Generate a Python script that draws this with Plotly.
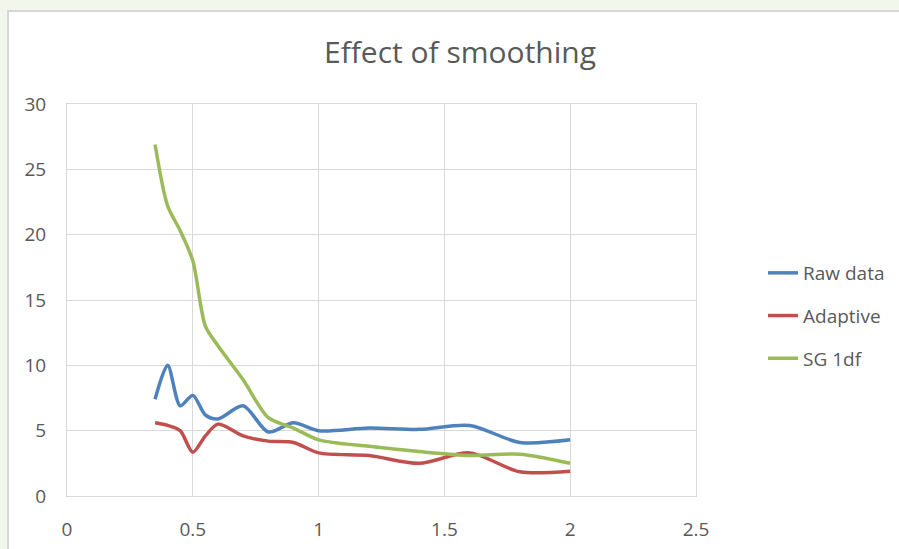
import plotly.graph_objects as go

x_vals = [0.35, 0.4, 0.45, 0.5, 0.55, 0.6, 0.7, 0.8, 0.9, 1.0, 1.2, 1.4, 1.6, 1.8, 2.0]
raw_data = [7.4, 10.0, 6.9, 7.7, 6.2, 5.9, 6.9, 4.9, 5.6, 5.0, 5.2, 5.1, 5.4, 4.1, 4.3]
adaptive = [5.6, 5.4, 5.0, 3.35, 4.6, 5.5, 4.6, 4.2, 4.1, 3.3, 3.1, 2.5, 3.3, 1.85, 1.9]
sg_1df = [26.9, 22.2, 20.3, 18.0, 13.0, 11.5, 8.9, 6.0, 5.2, 4.3, 3.8, 3.4, 3.1, 3.2, 2.5]

series_names = ["Raw data", "Adaptive", "SG 1df"]
series_colors = ["#4F81BD", "#C0504D", "#9BBB59"]
series_values = [raw_data, adaptive, sg_1df]

x_ticks = [0, 0.5, 1, 1.5, 2, 2.5]
x_tick_labels = ["0", "0.5", "1", "1.5", "2", "2.5"]
y_ticks = [0, 5, 10, 15, 20, 25, 30]

W, H = 899, 549
L, R, T, B = 67, 203, 104, 53
pw, ph = W - L - R, H - T - B

fig = go.Figure()
for i, (name, vals, col) in enumerate(zip(series_names, series_values, series_colors)):
    fig.add_trace(go.Scatter(
        x=x_vals, y=vals, name=name, mode="lines",
        line=dict(color=col, width=3.5, shape="spline", smoothing=0.8),
        legendgroup=f"g{i}",
    ))

def px2x(p):
    return (p - L) / pw

def px2y(p):
    return (H - B - p) / ph

FONT = "Open Sans"
grid = "#D9D9D9"

fig.update_layout(
    width=W, height=H,
    margin=dict(l=L, r=R, t=T, b=B, pad=0, autoexpand=False),
    paper_bgcolor="#F3F6EA",
    plot_bgcolor="#FFFFFF",
    font=dict(family=FONT, color="#595959", size=19),
    title=dict(text="Effect of smoothing", x=px2x(460), xref="paper", xanchor="center",
               y=1 - 52 / H, yanchor="middle",
               font=dict(family=FONT, size=30, color="#595959")),
    showlegend=True,
    legend=dict(x=px2x(763), y=px2y(254), xanchor="left", yanchor="top",
                xref="paper", yref="paper",
                font=dict(family=FONT, size=19, color="#595959"),
                bgcolor="rgba(0,0,0,0)", tracegroupgap=15),
    shapes=[dict(type="rect", xref="paper", yref="paper", layer="below",
                 x0=px2x(8), x1=px2x(905), y0=px2y(11), y1=px2y(556),
                 fillcolor="#FFFFFF", line=dict(color="#D6D6D6", width=2))],
    xaxis=dict(range=[0, 2.5], tickvals=x_ticks, ticktext=x_tick_labels,
               showgrid=True, gridcolor=grid, gridwidth=1, automargin=False,
               zeroline=False, showline=True, linecolor=grid, linewidth=1, mirror=True,
               ticks="", ticklabelstandoff=16,
               tickfont=dict(family=FONT, size=19, color="#595959")),
    yaxis=dict(range=[0, 30], tickvals=y_ticks,
               showgrid=True, gridcolor=grid, gridwidth=1, automargin=False,
               zeroline=False, showline=True, linecolor=grid, linewidth=1, mirror=True,
               ticks="", ticklabelstandoff=16,
               tickfont=dict(family=FONT, size=19, color="#595959")),
)

fig.write_html("out.html")
